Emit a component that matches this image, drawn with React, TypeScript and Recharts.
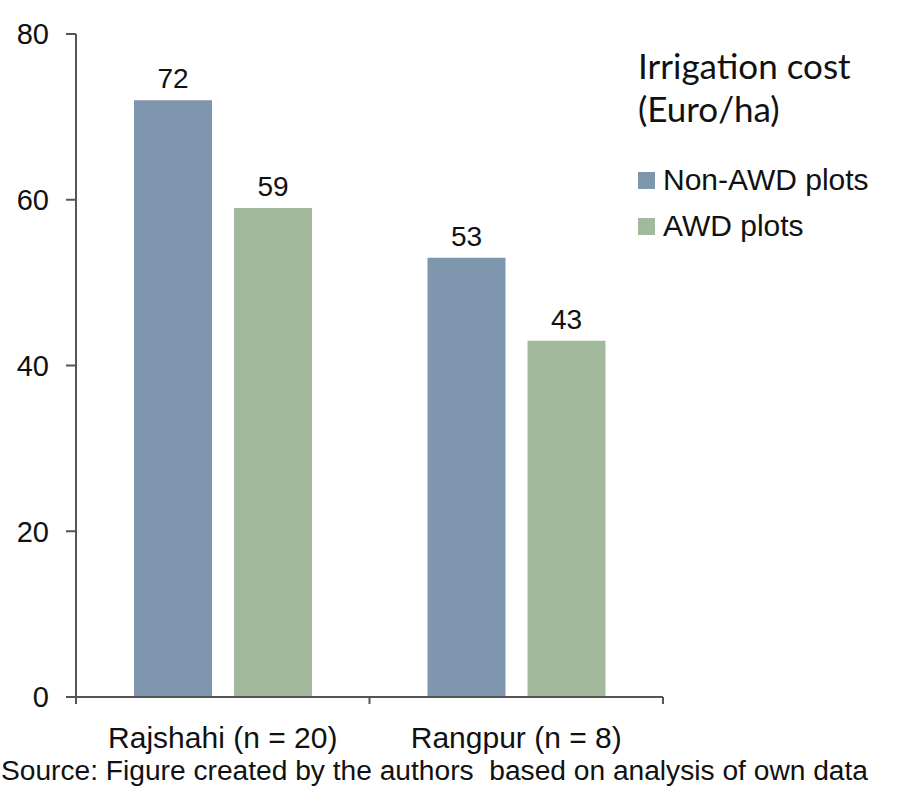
import React from 'react';
import { BarChart, Bar, XAxis, YAxis, LabelList } from 'recharts';

const REGIONS = ['Rajshahi (n = 20)', 'Rangpur (n = 8)'];
const NON_AWD = [72, 53];
const AWD = [59, 43];
const Y_TICKS = [0, 20, 40, 60, 80];

const SERIES = [
  { key: 'nonAwd', name: 'Non-AWD plots', color: '#7f96af' },
  { key: 'awd', name: 'AWD plots', color: '#a3b99c' },
];

const data = REGIONS.map((region, i) => ({
  region,
  nonAwd: NON_AWD[i],
  awd: AWD[i],
}));

const AXIS = '#555555';
const FONT = '"Liberation Sans", Arial, sans-serif';
const W = 897;
const H = 791;
const MARGIN = { top: 34, right: 234, bottom: 34, left: 0 };
const Y_WIDTH = 76;
const HALF_BAND = (W - MARGIN.right - Y_WIDTH) / REGIONS.length / 2;

// category label plus the boundary ticks between groups
const CatTick = (props: any) => {
  const { x, y, payload, index } = props;
  const half = payload && payload.offset ? payload.offset : HALF_BAND;
  return (
    <g>
      {index === 0 && <line x1={x - half} x2={x - half} y1={y} y2={y + 7} stroke={AXIS} strokeWidth={2} />}
      <line x1={x + half} x2={x + half} y1={y} y2={y + 7} stroke={AXIS} strokeWidth={2} />
      <text x={x} y={y + 51} textAnchor="middle" fill="#111" fontSize={30} fontFamily={FONT}>
        {payload.value}
      </text>
    </g>
  );
};

export default function App() {
  return (
    <div style={{ position: 'absolute', left: 0, top: 0, width: W, height: H, background: '#fff' }}>
      <BarChart width={W} height={H} data={data} margin={MARGIN} barSize={78} barGap={22}>
        <XAxis
          dataKey="region"
          height={60}
          axisLine={{ stroke: AXIS, strokeWidth: 2 }}
          tickLine={false}
          tickSize={0}
          tickMargin={0}
          tick={<CatTick />}
        />
        <YAxis
          domain={[0, 80]}
          ticks={Y_TICKS}
          width={Y_WIDTH}
          tickSize={10}
          tickMargin={17}
          axisLine={{ stroke: AXIS, strokeWidth: 2 }}
          tickLine={{ stroke: AXIS, strokeWidth: 2 }}
          tick={{ fill: '#111', fontSize: 29, fontFamily: FONT }}
        />
        {SERIES.map(s => (
          <Bar key={s.key} dataKey={s.key} name={s.name} fill={s.color} isAnimationActive={false}>
            <LabelList dataKey={s.key} position="top" offset={12} fill="#111" fontSize={28} fontFamily={FONT} />
          </Bar>
        ))}
      </BarChart>

      <div style={{ position: 'absolute', left: 638, top: 44, fontFamily: FONT, fontSize: 30, color: '#111' }}>
        <div style={{ fontFamily: 'Lato, sans-serif', fontSize: 35, lineHeight: '43px', marginBottom: 27 }}>
          Irrigation cost
          <br />
          (Euro/ha)
        </div>
        {SERIES.map(s => (
          <div key={s.key} style={{ display: 'flex', alignItems: 'center', height: 46 }}>
            <span style={{ width: 17, height: 17, background: s.color, marginRight: 8, display: 'inline-block' }} />
            {s.name}
          </div>
        ))}
      </div>

      <svg style={{ position: 'absolute', left: 0, top: 750 }} width={W} height={40}>
        <text x={1} y={30} fontFamily={FONT} fontSize={27} fill="#111" textLength={867} lengthAdjust="spacingAndGlyphs" xmlSpace="preserve">
          Source: Figure created by the authors  based on analysis of own data
        </text>
      </svg>
    </div>
  );
}
